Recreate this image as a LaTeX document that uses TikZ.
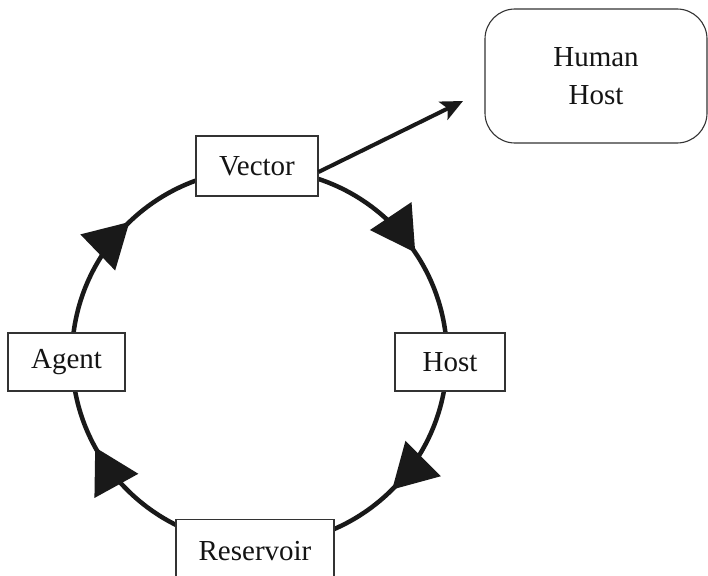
\documentclass[tikz,border=0pt]{standalone}
\usepackage{fontspec}
\setmainfont{Liberation Serif}
\usetikzlibrary{arrows.meta,decorations.markings}
\begin{document}
\begin{tikzpicture}[x=1pt,y=1pt,
  box/.style={draw=black!80, line width=1.1pt, fill=white, inner sep=0pt, text=black!92,
    font=\fontsize{29}{38}\selectfont},
  ring/.style={line width=4.5pt, draw=black!90},
  cyctip/.style={-{Triangle[length=44pt,width=49pt]}}]
\useasboundingbox (0,0) rectangle (708,-575);
\clip (0,0) rectangle (708,-575);
\coordinate (c) at (259.5,-357);
\draw[ring, postaction={decorate}, decoration={markings,
   mark=at position 0.125 with {\arrow[black!90]{Triangle[length=44pt,width=49pt]}},
   mark=at position 0.420 with {\arrow[black!90]{Triangle[length=44pt,width=49pt]}},
   mark=at position 0.628 with {\arrow[black!90]{Triangle[length=44pt,width=49pt]}},
   mark=at position 0.906 with {\arrow[black!90]{Triangle[length=44pt,width=49pt]}}}]
  (c) ++(0:187.5) arc[start angle=0, end angle=-360, radius=187.5];
\node[box, minimum width=122pt, minimum height=60pt] (vector) at (257,-166) {Vector};
\node[box, minimum width=117pt, minimum height=58pt] (agent) at (66.5,-362) {Agent};
\node[box, minimum width=110pt, minimum height=58pt] (host) at (450,-362) {Host};
\node[box, minimum width=158pt, minimum height=62pt, anchor=north] (res) at (255,-519) {Reservoir};
\node[box, rounded corners=30pt, minimum width=222pt, minimum height=134pt, align=center] (hh) at (596,-76) {Human\\Host};
\coordinate (tgt) at (463,-101);
\draw[line width=4pt, draw=black!90, -{Stealth[length=22pt,width=20pt,inset=5pt]}] ([yshift=-6pt]vector.east) -- (tgt);
\end{tikzpicture}
\end{document}
